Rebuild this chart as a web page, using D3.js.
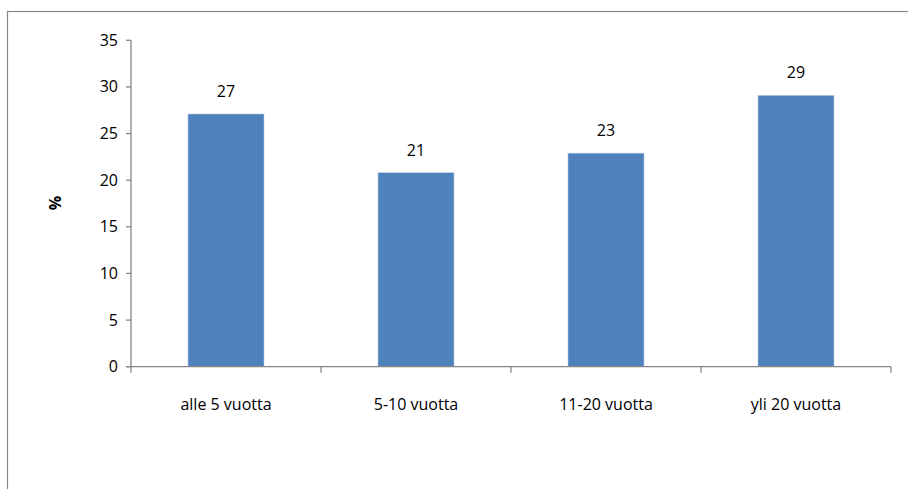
<!DOCTYPE html>
<html><head><meta charset="utf-8">
<script src="https://cdn.jsdelivr.net/npm/d3@7"></script>
<style>body{margin:0;background:#fff}svg{display:block}text{font-family:"Open Sans",sans-serif;fill:#000}</style>
</head><body>
<svg id="c" width="908" height="489"></svg>
<script>
const categories = ["alle 5 vuotta", "5-10 vuotta", "11-20 vuotta", "yli 20 vuotta"];
const values = [27.1, 20.8, 22.9, 29.1];
const labels = ["27", "21", "23", "29"];
const yTicks = [0, 5, 10, 15, 20, 25, 30, 35];
const yTitle = "%";
const fs = "16px";

const svg = d3.select("#c");
svg.append("rect").attr("x", 7.5).attr("y", 11.5).attr("width", 1000).attr("height", 1000)
  .attr("fill", "none").attr("stroke", "#868686").attr("stroke-width", 1.2);

const x = d3.scaleBand().domain(categories).range([131, 891]).paddingInner(0).paddingOuter(0);
const y = d3.scaleLinear().domain([0, 35]).range([366.7, 40.3]);
const barW = x.bandwidth() * 0.4;

svg.selectAll("rect.bar").data(values).enter().append("rect").attr("class", "bar")
  .attr("x", (d, i) => x(categories[i]) + (x.bandwidth() - barW) / 2)
  .attr("y", d => y(d)).attr("width", barW).attr("height", d => y(0) - y(d))
  .attr("fill", "#4F81BD").attr("stroke", "#B9CDE5").attr("stroke-width", 0.6);

// y axis
const ya = svg.append("g");
ya.append("line").attr("x1", 131).attr("x2", 131).attr("y1", y(35)).attr("y2", y(0) + 0.5)
  .attr("stroke", "#868686").attr("stroke-width", 1.3);
yTicks.forEach(t => {
  ya.append("line").attr("x1", 126).attr("x2", 131).attr("y1", y(t)).attr("y2", y(t))
    .attr("stroke", "#868686").attr("stroke-width", 1.3);
  ya.append("text").attr("x", 118).attr("y", y(t) + 5.5).attr("text-anchor", "end")
    .style("font-size", fs).text(t);
});

// x axis
const xa = svg.append("g");
xa.append("line").attr("x1", 126).attr("x2", 891).attr("y1", y(0)).attr("y2", y(0))
  .attr("stroke", "#868686").attr("stroke-width", 1.3);
const edges = categories.map(c => x(c)).concat([x(categories[categories.length - 1]) + x.bandwidth()]);
edges.forEach(e => {
  xa.append("line").attr("x1", e).attr("x2", e).attr("y1", y(0)).attr("y2", y(0) + 6)
    .attr("stroke", "#868686").attr("stroke-width", 1.3);
});
categories.forEach(c => {
  xa.append("text").attr("x", x(c) + x.bandwidth() / 2).attr("y", 410).attr("text-anchor", "middle")
    .style("font-size", fs).text(c);
});

// data labels
svg.selectAll("text.lbl").data(values).enter().append("text").attr("class", "lbl")
  .attr("x", (d, i) => x(categories[i]) + x.bandwidth() / 2)
  .attr("y", d => y(d) - 17).attr("text-anchor", "middle")
  .style("font-size", fs).text((d, i) => labels[i]);

// y title
svg.append("text").attr("transform", "translate(61,203) rotate(-90)").attr("text-anchor", "middle")
  .style("font-size", fs).style("font-weight", "bold").text(yTitle);
</script>
</body></html>
